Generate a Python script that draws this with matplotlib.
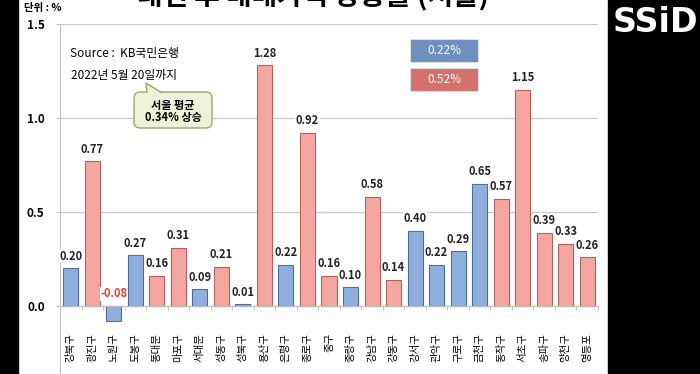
import numpy as np
import matplotlib.pyplot as plt
from matplotlib.patches import Rectangle, FancyBboxPatch, Polygon

plt.rcParams['font.family'] = ['Noto Sans CJK KR', 'DejaVu Sans']

# data: 대선 후 매매가격 상승률 (서울), KB국민은행, 2022.05.20
districts = ['강북구', '광진구', '노원구', '도봉구', '동대문', '마포구', '서대문', '성동구',
             '성북구', '용산구', '은평구', '종로구', '중구', '중랑구', '강남구', '강동구',
             '강서구', '관악구', '구로구', '금천구', '동작구', '서초구', '송파구', '양천구', '영등포']
changes = [0.20, 0.77, -0.08, 0.27, 0.16, 0.31, 0.09, 0.21, 0.01, 1.28, 0.22, 0.92, 0.16,
           0.10, 0.58, 0.14, 0.40, 0.22, 0.29, 0.65, 0.57, 1.15, 0.39, 0.33, 0.26]
group = ['low', 'high', 'low', 'low', 'high', 'high', 'low', 'high', 'low', 'high', 'low',
         'high', 'high', 'low', 'high', 'high', 'low', 'low', 'low', 'low', 'high', 'high',
         'high', 'high', 'high']
group_avg = {'low': '0.22%', 'high': '0.52%'}
seoul_avg = '0.34%'
yticks = [0.0, 0.5, 1.0, 1.5]

face = {'low': '#8fafdc', 'high': '#f5a6a0'}
edge = {'low': '#4f6e9e', 'high': '#b0625e'}
box_col = {'low': '#6f8fc0', 'high': '#d5716c'}

fig = plt.figure(figsize=(7, 3.74), dpi=100)
px = fig.dpi_scale_trans  # inches == pixels/100


def P(x, y):
    return x / 100, (374 - y) / 100


# black frame of the video
fig.patches.append(Rectangle(P(0, 374), 0.18, 3.74, color='black', transform=px, zorder=0))
fig.patches.append(Rectangle(P(608, 374), 0.92, 3.74, color='black', transform=px, zorder=0))
fig.text(*P(655, 22), 'SSiD', transform=px, color='white', fontsize=24, fontweight='bold',
         ha='center', va='center', family='DejaVu Sans')

ax = fig.add_axes([60 / 700, 1 - 400 / 374, 538 / 700, 376 / 374])
x = np.arange(len(districts))
ax.bar(x, changes, width=0.7, color=[face[g] for g in group],
       edgecolor=[edge[g] for g in group], linewidth=0.8, zorder=2)

for xi, v in zip(x, changes):
    ax.annotate(f'{v:.2f}', (xi, max(v, 0)), xytext=(0, 4), textcoords='offset points',
                ha='center', va='bottom', fontsize=8, fontweight='bold',
                color='#f03a2e' if v < 0 else '#222222', zorder=4,
                bbox=dict(facecolor='white', edgecolor='none', pad=0.3))

ax.set_xlim(-0.5, len(districts) - 0.5)
ax.set_ylim(-0.5, 1.5)
ax.set_yticks(yticks, [f'{t:.1f}' for t in yticks])
ax.set_xticks(x, districts)
ax.set_xticks(np.arange(len(districts) + 1) - 0.5, minor=True)
ax.tick_params(axis='x', which='major', length=0, pad=19.5, labelsize=7.5, labelrotation=90)
ax.tick_params(axis='x', which='minor', length=3, color='#bfbfbf', direction='out')
ax.tick_params(axis='y', length=3, color='#bfbfbf', pad=8, labelsize=8.5)
for lbl in ax.get_yticklabels():
    lbl.set_fontweight('bold')
ax.yaxis.grid(True, color='#c8c8c8', linewidth=0.9)
ax.set_axisbelow(True)
for s in ['top', 'right']:
    ax.spines[s].set_visible(False)
ax.spines['bottom'].set_position(('data', 0))
ax.spines['bottom'].set_color('#bfbfbf')
ax.spines['left'].set_color('#bfbfbf')

# title (cut off at the top of the frame)
fig.text(*P(313, 5), '대선 후 매매가격 상승률 (서울)', transform=px, fontsize=20,
         fontweight='bold', ha='center', va='baseline')
fig.text(*P(24, 8), '단위 : %', transform=px, fontsize=7.5, fontweight='bold',
         ha='left', va='center')

fig.text(*P(70, 53), 'Source :  KB국민은행', transform=px, fontsize=8.5, va='center')
fig.text(*P(71, 75), '2022년 5월 20일까지', transform=px, fontsize=8.5, va='center')

# callout
fig.patches.append(FancyBboxPatch(P(134, 128), 0.78, 0.36, transform=px,
                                  boxstyle='round,pad=0,rounding_size=0.06',
                                  facecolor='#eef2d9', edgecolor='#a3a36a', linewidth=1))
fig.patches.append(Polygon([P(147, 93), P(146, 83), P(162, 93)], closed=False, transform=px,
                           facecolor='#eef2d9', edgecolor='#a3a36a', linewidth=1))
fig.text(*P(173, 105), '서울 평균', transform=px, fontsize=8, fontweight='bold',
         ha='center', va='center')
fig.text(*P(173, 118), f'{seoul_avg} 상승', transform=px, fontsize=8, fontweight='bold',
         ha='center', va='center')

# group average boxes
for g, ytop in [('low', 39), ('high', 68)]:
    fig.patches.append(Rectangle(P(410, ytop + 23), 0.68, 0.23, transform=px,
                                 facecolor=box_col[g], edgecolor='#dddddd', linewidth=0.8))
    fig.text(*P(444, ytop + 11.5), group_avg[g], transform=px, fontsize=8.5, color='white',
             ha='center', va='center')

fig.savefig('out.png', dpi=100)
